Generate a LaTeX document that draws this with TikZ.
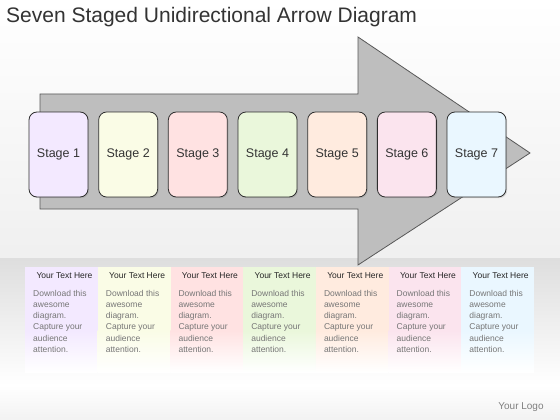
\documentclass[tikz,border=0pt]{standalone}
\usepackage{fontspec}
\setmainfont{Liberation Sans}
\usetikzlibrary{shadows}
\definecolor{c1}{HTML}{F3E9FF}
\definecolor{c2}{HTML}{FAFCE6}
\definecolor{c3}{HTML}{FFE2E2}
\definecolor{c4}{HTML}{EAF7DB}
\definecolor{c5}{HTML}{FFEBDF}
\definecolor{c6}{HTML}{FBE4EE}
\definecolor{c7}{HTML}{EAF7FF}
\definecolor{arrowgray}{HTML}{BEBEBE}
\definecolor{edge}{HTML}{2E2E2E}
\definecolor{bodygray}{HTML}{767676}
\tikzset{
  stagebox/.style={draw=edge, line width=0.8pt, rounded corners=8pt,
    minimum width=59pt, minimum height=85pt, inner sep=0pt,
    font=\fontsize{12.5}{14}\selectfont, text=black!80,
    drop shadow={opacity=0.25, shadow xshift=1.2pt, shadow yshift=-1.2pt}},
  colbox/.style={draw=none, minimum width=72.7pt, minimum height=64pt, inner sep=0pt, anchor=north west},
  headtext/.style={anchor=west, font=\fontsize{8.5}{10}\selectfont, text=black!85},
  bodytext/.style={anchor=north west, align=left, font=\fontsize{8.5}{11.2}\selectfont, text=bodygray, inner sep=0pt},
}
\begin{document}
\begin{tikzpicture}[x=1pt, y=-1pt]
\useasboundingbox (0,0) rectangle (560,420);
% background
\shade[top color=white, bottom color=gray!12] (0,0) rectangle (560,258);
\shade[top color=gray!26, bottom color=white] (0,258) rectangle (560,385);
\shade[top color=white, bottom color=gray!10] (0,385) rectangle (560,420);
% title
\node[anchor=west, inner sep=0pt, font=\fontsize{21}{24}\selectfont, text=black!80] (title) at (6,17) {Seven Staged Unidirectional Arrow Diagram};
% arrow
\draw[fill=arrowgray, draw=edge!80, line width=0.8pt]
  (40,94) -- (358,94) -- (358,37) -- (530,153) -- (358,265) -- (358,209) -- (40,209) -- cycle;
% stages
\foreach \i in {1,...,7} {
  \node[stagebox, fill=c\i] (s\i) at ({58.5+69.67*(\i-1)},154.5) {Stage \i};
}
% columns
\foreach \i in {1,...,7} {
  \pgfmathsetmacro{\xl}{25+72.7*(\i-1)}
  \node[colbox, fill=c\i] (col\i) at (\xl,267) {};
  \shade[top color=c\i, bottom color=white] (\xl,330.5) rectangle ({\xl+72.7},372);
  \node[headtext] (h\i) at ({\xl+8},276) {Your Text Here};
  \node[bodytext] (b\i) at ({\xl+8},290) { Download this\\awesome\\diagram.\\Capture your\\audience\\attention.};
}
\node[font=\fontsize{10}{12}\selectfont, text=gray] (logo) at (521,407) {Your Logo};
\end{tikzpicture}
\end{document}
